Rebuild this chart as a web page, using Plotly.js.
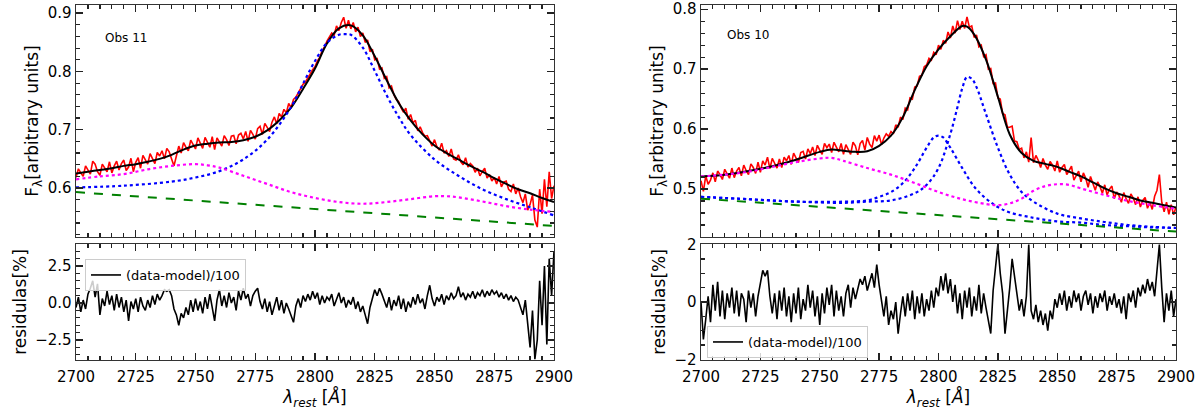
<!DOCTYPE html>
<html>
<head>
<meta charset="utf-8">
<script src="https://cdn.plot.ly/plotly-3.0.1.min.js"></script>
<style>html,body{margin:0;padding:0;background:#fff;}#chart{width:1200px;height:413px;}</style>
</head>
<body>
<div id="chart"></div>
<script>
// ---------------- DATA ----------------
const waveStart = 2700;   // first wavelength of the 1-Angstrom sampled series
const waveStep = 1;

// Obs 11 (left) observed spectrum, 2700..2900 step 1
const obs11Flux = [
0.618,0.633,0.626,0.620,0.638,0.630,0.624,0.646,0.641,0.628,
0.622,0.641,0.635,0.628,0.645,0.626,0.638,0.646,0.631,0.642,
0.648,0.630,0.636,0.651,0.628,0.644,0.652,0.634,0.656,0.649,
0.641,0.659,0.650,0.642,0.661,0.655,0.664,0.650,0.668,0.662,
0.650,0.638,0.655,0.672,0.660,0.678,0.670,0.664,0.682,0.675,
0.667,0.686,0.678,0.668,0.687,0.677,0.670,0.688,0.666,0.686,
0.680,0.672,0.690,0.683,0.673,0.689,0.690,0.676,0.691,0.694,
0.684,0.697,0.680,0.699,0.692,0.684,0.702,0.706,0.692,0.711,
0.704,0.697,0.713,0.722,0.710,0.728,0.722,0.735,0.729,0.745,
0.738,0.752,0.756,0.764,0.770,0.778,0.782,0.790,0.796,0.803,
0.808,0.818,0.824,0.836,0.842,0.852,0.858,0.866,0.862,0.878,
0.870,0.884,0.893,0.874,0.888,0.873,0.884,0.868,0.876,0.860,
0.866,0.850,0.854,0.834,0.838,0.820,0.822,0.804,0.806,0.788,
0.791,0.772,0.775,0.760,0.752,0.748,0.738,0.730,0.737,0.718,
0.726,0.712,0.716,0.698,0.705,0.695,0.689,0.690,0.681,0.672,
0.683,0.671,0.665,0.677,0.660,0.664,0.654,0.667,0.650,0.648,
0.657,0.645,0.640,0.652,0.636,0.642,0.638,0.627,0.634,0.621,
0.628,0.634,0.617,0.623,0.612,0.618,0.607,0.620,0.602,0.610,
0.612,0.598,0.594,0.607,0.590,0.600,0.585,0.575,0.590,0.562,
0.572,0.588,0.545,0.533,0.598,0.556,0.615,0.568,0.628,0.582,
0.604];

// Obs 11 residuals (%), 2700..2900 step 1
const obs11Resid = [
-0.3,0.4,-0.6,0.2,-0.4,0.6,1.0,1.5,0.4,1.3,
-0.8,0.3,-0.2,0.8,-0.1,0.5,-0.5,0.6,-0.3,0.4,
-0.6,0.2,-1.2,0.1,-0.4,0.3,-0.6,0.4,-0.2,-0.5,
0.2,-0.3,0.5,-0.1,0.6,0.2,0.5,0.9,0.8,0.9,
0.5,-0.4,-0.8,-1.5,-0.7,-1.0,-0.3,-0.8,0.2,-0.6,
0.3,-0.5,0.1,-0.7,0.4,-0.4,0.6,-0.3,-1.2,0.2,
0.9,-0.2,0.5,-0.3,0.7,0.0,0.4,-0.5,0.8,0.2,
1.0,0.3,0.6,-0.2,0.5,0.8,1.0,0.1,-0.4,0.3,
-0.6,0.1,-0.8,-0.2,0.4,-0.5,0.2,-0.7,0.0,-0.4,
-0.9,-1.3,-0.2,0.3,-0.3,0.5,0.1,0.6,0.2,0.8,
0.3,0.7,-0.1,0.5,0.0,0.4,0.2,0.6,-0.2,0.3,
0.7,0.0,0.4,-0.3,0.2,-0.1,0.4,-0.4,0.1,-0.6,
-0.2,-0.8,-1.4,-0.3,0.4,0.9,0.5,1.0,0.6,0.2,
-0.3,0.4,-0.5,0.2,-0.2,0.5,-0.4,0.3,-0.6,0.1,
-0.3,0.4,-0.1,0.6,0.0,0.3,-0.4,0.5,1.2,0.3,
-0.2,0.4,0.1,0.6,-0.1,0.5,0.2,0.7,0.3,0.5,
1.1,0.4,0.7,0.2,0.6,0.4,0.8,0.3,0.7,0.5,
0.9,0.4,0.8,0.5,0.9,0.6,0.8,0.4,0.7,0.3,
0.6,0.2,0.5,0.1,0.4,0.2,-0.3,-0.8,0.2,-1.5,
-3.0,-0.5,-3.8,-2.5,1.5,-1.5,2.5,-2.8,3.0,0.5,
3.5];

// Obs 11 model components (read every 5-10 A)
const obs11ModelWave = [2700,2705,2710,2715,2720,2725,2730,2735,2740,2745,2750,2755,2760,2765,2770,2775,2780,2785,2790,2795,2800,2805,2810,2815,2820,2825,2830,2835,2840,2845,2850,2855,2860,2865,2870,2875,2880,2885,2890,2895,2900];
const obs11Model = [0.625,0.628,0.631,0.634,0.638,0.641,0.645,0.650,0.657,0.666,0.673,0.676,0.678,0.679,0.682,0.688,0.699,0.716,0.738,0.770,0.805,0.848,0.874,0.879,0.862,0.826,0.785,0.746,0.716,0.692,0.673,0.660,0.649,0.638,0.628,0.617,0.607,0.598,0.591,0.583,0.576];
const obs11BlueWave = [2700,2720,2740,2750,2760,2770,2780,2790,2795,2800,2805,2810,2813,2815,2820,2825,2830,2835,2840,2850,2860,2870,2880,2890,2900];
const obs11Blue = [0.601,0.604,0.611,0.618,0.629,0.649,0.683,0.739,0.779,0.818,0.849,0.863,0.864,0.863,0.841,0.801,0.759,0.722,0.691,0.649,0.621,0.598,0.581,0.567,0.553];
const obs11MagWave = [2700,2710,2720,2730,2740,2750,2755,2760,2770,2780,2790,2800,2810,2820,2830,2840,2850,2855,2860,2870,2880,2890,2900];
const obs11Mag = [0.615,0.620,0.624,0.632,0.638,0.641,0.639,0.635,0.621,0.607,0.593,0.583,0.576,0.573,0.576,0.581,0.586,0.586,0.584,0.577,0.569,0.563,0.559];
const obs11ContWave = [2700,2900];
const obs11Cont = [0.593,0.535];

// Obs 10 (right) observed spectrum, 2700..2900 step 1
const obs10Flux = [
0.514,0.496,0.522,0.508,0.515,0.527,0.512,0.530,0.524,0.516,
0.533,0.525,0.518,0.535,0.519,0.530,0.536,0.522,0.540,0.531,
0.524,0.542,0.536,0.526,0.545,0.528,0.547,0.540,0.553,0.534,
0.551,0.543,0.535,0.550,0.536,0.553,0.547,0.556,0.541,0.560,
0.552,0.544,0.561,0.563,0.550,0.567,0.559,0.570,0.556,0.573,
0.565,0.558,0.576,0.569,0.575,0.561,0.578,0.570,0.562,0.576,
0.558,0.574,0.567,0.558,0.578,0.572,0.557,0.576,0.581,0.565,
0.586,0.575,0.569,0.589,0.580,0.590,0.574,0.585,0.592,0.588,
0.596,0.592,0.607,0.603,0.620,0.616,0.635,0.632,0.652,0.650,
0.670,0.672,0.688,0.690,0.704,0.707,0.718,0.715,0.728,0.724,
0.740,0.733,0.748,0.743,0.762,0.752,0.772,0.760,0.781,0.766,
0.780,0.768,0.787,0.770,0.772,0.753,0.757,0.737,0.740,0.721,
0.724,0.700,0.701,0.676,0.677,0.652,0.650,0.626,0.624,0.603,
0.603,0.605,0.580,0.579,0.566,0.568,0.552,0.562,0.545,0.586,
0.544,0.556,0.548,0.536,0.551,0.540,0.533,0.546,0.540,0.530,
0.547,0.528,0.536,0.541,0.524,0.530,0.538,0.515,0.524,0.530,
0.512,0.527,0.518,0.503,0.521,0.510,0.498,0.512,0.504,0.493,
0.507,0.490,0.500,0.505,0.484,0.495,0.489,0.478,0.494,0.484,
0.476,0.492,0.485,0.474,0.487,0.470,0.481,0.486,0.468,0.478,
0.466,0.488,0.498,0.524,0.478,0.462,0.478,0.458,0.474,0.457,
0.470];

// Obs 10 residuals (%), 2700..2900 step 1
const obs10Resid = [
0.0,-1.3,-0.6,0.2,-0.7,0.6,-0.3,0.7,-0.5,0.4,
-0.6,0.3,-0.2,0.5,-0.4,0.4,-0.5,0.3,0.1,-0.7,
0.4,-0.2,0.3,-0.5,0.2,0.6,1.1,0.9,1.1,0.2,
-0.4,0.3,-0.6,0.4,-0.3,0.5,-0.5,0.2,-0.7,0.3,
-0.4,0.5,-0.6,0.1,-0.3,0.6,-0.2,0.4,-0.5,0.2,
-0.8,0.3,-0.4,0.5,-0.1,0.6,-0.5,0.4,-0.3,0.2,
-0.5,0.3,0.6,-0.2,0.5,0.1,0.4,0.8,0.6,0.9,
0.4,0.7,1.0,0.5,1.3,0.6,0.1,-0.5,0.2,-0.8,
-0.3,-0.6,0.0,-1.1,-0.4,0.2,-0.5,0.3,-0.3,0.4,
-0.6,0.2,-0.4,0.3,-0.5,0.1,-0.3,0.4,-0.2,0.5,
0.2,0.9,0.4,1.0,0.3,0.8,0.0,0.6,-0.4,0.3,
-0.6,0.4,-0.2,0.5,-0.5,0.2,-0.3,0.6,-0.4,0.3,
-0.2,-0.6,-1.1,0.4,1.2,2.0,1.0,0.3,-1.1,-0.4,
0.5,1.5,0.9,0.3,-0.3,0.1,-0.5,0.2,2.0,-0.3,
-0.6,-0.1,-0.7,-0.3,-0.8,-0.4,-1.0,-0.3,-0.6,0.1,
-0.2,0.3,-0.1,0.4,-0.3,0.2,-0.2,0.4,0.0,0.3,
-0.3,0.2,0.4,-0.1,0.3,-0.4,0.2,-0.2,0.3,0.0,
0.4,-0.3,0.2,-0.1,0.3,-0.2,0.1,-0.4,0.2,-0.6,
0.3,0.0,0.4,-0.2,0.5,0.2,0.6,0.3,0.8,0.4,
0.7,0.2,1.0,2.0,0.5,-0.7,0.3,-0.3,0.4,-0.5,
0.1];

// Obs 10 model components
const obs10ModelWave = [2700,2710,2720,2730,2740,2750,2755,2760,2765,2770,2775,2780,2785,2790,2795,2800,2805,2810,2812,2815,2820,2825,2830,2835,2840,2845,2850,2855,2860,2865,2870,2875,2880,2885,2890,2895,2900];
const obs10Model = [0.521,0.524,0.530,0.538,0.549,0.562,0.566,0.564,0.562,0.563,0.572,0.589,0.620,0.665,0.705,0.733,0.755,0.772,0.771,0.758,0.716,0.654,0.591,0.560,0.547,0.542,0.537,0.529,0.521,0.511,0.501,0.493,0.487,0.481,0.477,0.473,0.469];
const obs10BlueAWave = [2700,2720,2740,2760,2770,2775,2780,2785,2790,2795,2798,2800,2802,2805,2810,2815,2820,2825,2830,2840,2850,2860,2870,2880,2890,2900];
const obs10BlueA = [0.487,0.483,0.479,0.479,0.481,0.487,0.495,0.510,0.535,0.569,0.586,0.589,0.586,0.569,0.535,0.504,0.484,0.470,0.461,0.452,0.446,0.444,0.440,0.438,0.436,0.435];
const obs10BlueBWave = [2700,2720,2740,2760,2770,2780,2790,2795,2800,2805,2808,2810,2812,2814,2816,2820,2825,2830,2835,2840,2850,2860,2870,2880,2890,2900];
const obs10BlueB = [0.487,0.483,0.479,0.477,0.479,0.481,0.493,0.507,0.535,0.592,0.637,0.668,0.687,0.684,0.670,0.625,0.569,0.524,0.495,0.479,0.459,0.451,0.445,0.440,0.437,0.435];
const obs10MagWave = [2700,2710,2720,2730,2740,2750,2755,2760,2770,2780,2790,2800,2810,2820,2825,2830,2835,2840,2845,2850,2855,2860,2870,2880,2890,2900];
const obs10Mag = [0.521,0.524,0.529,0.537,0.545,0.551,0.552,0.547,0.535,0.524,0.510,0.495,0.483,0.475,0.473,0.476,0.484,0.497,0.505,0.508,0.507,0.501,0.490,0.480,0.473,0.467];
const obs10ContWave = [2700,2900];
const obs10Cont = [0.484,0.429];

const xTickVals = [2700,2725,2750,2775,2800,2825,2850,2875,2900];
const panelLabels = ['Obs 11','Obs 10'];
const residLegendName = '(data-model)/100';

// ---------------- CHART ----------------
const FONT = 'DejaVu Sans, Liberation Sans, sans-serif';
const RED = '#ff0000', BLACK = '#000000', BLUE = '#0000ff', MAG = '#ff00ff', GREEN = '#008000';

function series(x, y, xa, ya, color, width, dash, extra) {
  return Object.assign({type:'scatter', mode:'lines', x:x, y:y, xaxis:xa, yaxis:ya,
    line:{color:color, width:width, dash:dash||'solid', shape:'spline', smoothing:1.0},
    showlegend:false, hoverinfo:'skip'}, extra||{});
}
function sampled(y, xa, ya, color, width, extra) {
  return Object.assign({type:'scatter', mode:'lines', x0:waveStart, dx:waveStep, y:y, xaxis:xa, yaxis:ya,
    line:{color:color, width:width}, showlegend:false, hoverinfo:'skip'}, extra||{});
}

const traces = [
  // left top
  sampled(obs11Flux,'x','y',RED,1.6),
  series(obs11ModelWave,obs11Model,'x','y',BLACK,2),
  series(obs11BlueWave,obs11Blue,'x','y',BLUE,2.2,'dot'),
  series(obs11MagWave,obs11Mag,'x','y',MAG,2.2,'dot'),
  series(obs11ContWave,obs11Cont,'x','y',GREEN,2,'dash'),
  // left residual
  sampled(obs11Resid,'x2','y2',BLACK,1.6,{name:residLegendName, showlegend:true, legend:'legend'}),
  // right top
  sampled(obs10Flux,'x3','y3',RED,1.6),
  series(obs10ModelWave,obs10Model,'x3','y3',BLACK,2),
  series(obs10BlueAWave,obs10BlueA,'x3','y3',BLUE,2.2,'dot'),
  series(obs10BlueBWave,obs10BlueB,'x3','y3',BLUE,2.2,'dot'),
  series(obs10MagWave,obs10Mag,'x3','y3',MAG,2.2,'dot'),
  series(obs10ContWave,obs10Cont,'x3','y3',GREEN,2,'dash'),
  // right residual
  sampled(obs10Resid,'x4','y4',BLACK,1.6,{name:residLegendName, showlegend:true, legend:'legend2'})
];

const W = 1200, H = 413;
const px = v => v / W, py = v => 1 - v / H;
const leftDom = [px(76), px(554)], rightDom = [px(701), px(1176)];
const topDom = [py(237), py(5)], botDom = [py(360), py(244)];

function xAxis(dom, anchor, labels) {
  const a = {domain:dom, anchor:anchor, range:[2700,2900], tickvals:xTickVals,
    ticks:'inside', ticklen:7, tickwidth:1.4, tickcolor:'#222',
    showline:true, linecolor:'#333', linewidth:1.4, mirror:'allticks',
    showgrid:false, zeroline:false, showticklabels:labels, ticklabeloverflow:'allow',
    ticklabelstandoff:3,
    tickfont:{family:FONT, size:15, color:'#000'},
    minor:{ticks:'inside', dtick:5, tick0:2700, ticklen:4, tickwidth:1.2, tickcolor:'#222', showgrid:false}};
  if (labels) {
    a.title = {text:'<i>λ</i><sub><i>rest</i></sub> [<i>Å</i>]', font:{family:FONT, size:17, color:'#000'}, standoff:2};
  }
  return a;
}
function yAxis(dom, anchor, range, dtick, tick0, minor, fmt, title, size, standoff) {
  return {domain:dom, anchor:anchor, range:range, dtick:dtick, tick0:tick0, tickformat:fmt,
    ticks:'inside', ticklen:7, tickwidth:1.4, tickcolor:'#222',
    showline:true, linecolor:'#333', linewidth:1.4, mirror:'allticks',
    showgrid:false, zeroline:false, ticklabeloverflow:'allow',
    tickfont:{family:FONT, size:15, color:'#000'},
    minor:{ticks:'inside', dtick:minor, tick0:tick0, ticklen:4, tickwidth:1.2, tickcolor:'#222', showgrid:false},
    title:{text:title, font:{family:FONT, size:size, color:'#000'}, standoff:standoff}};
}

const FLAB = 'F<sub>λ</sub>[arbitrary units]';
const RLAB = 'residulas[%]';

const layout = {
  width:W, height:H, margin:{l:0,r:0,t:0,b:0},
  paper_bgcolor:'#fff', plot_bgcolor:'#fff',
  font:{family:FONT, color:'#000'},
  xaxis: xAxis(leftDom,'y',false),
  yaxis: yAxis(topDom,'x',[0.516,0.914],0.1,0.6,0.02,'.1f',FLAB,17,4),
  xaxis2: xAxis(leftDom,'y2',true),
  yaxis2: yAxis(botDom,'x2',[-3.85,3.99],2.5,0,0.5,'.1f',RLAB,17,4),
  xaxis3: xAxis(rightDom,'y3',false),
  yaxis3: yAxis(topDom,'x3',[0.42,0.807],0.1,0.5,0.02,'.1f',FLAB,17,4),
  xaxis4: xAxis(rightDom,'y4',true),
  yaxis4: yAxis(botDom,'x4',[-2.02,2.02],2,0,0.5,'d',RLAB,17,4),
  legend:{x:px(85), y:py(259), xanchor:'left', yanchor:'top', bgcolor:'rgba(255,255,255,0.8)',
    bordercolor:'#cccccc', borderwidth:1, font:{family:FONT, size:13, color:'#000'}, tracegroupgap:0},
  legend2:{x:px(707), y:py(358), xanchor:'left', yanchor:'bottom', bgcolor:'rgba(255,255,255,0.8)',
    bordercolor:'#cccccc', borderwidth:1, font:{family:FONT, size:13, color:'#000'}, tracegroupgap:0},
  annotations:[
    {text:panelLabels[0], xref:'paper', yref:'paper', x:px(103), y:py(38), xanchor:'left', yanchor:'middle', showarrow:false, font:{family:FONT, size:12, color:'#000'}},
    {text:panelLabels[1], xref:'paper', yref:'paper', x:px(725), y:py(35), xanchor:'left', yanchor:'middle', showarrow:false, font:{family:FONT, size:12, color:'#000'}}
  ]
};

Plotly.newPlot('chart', traces, layout, {staticPlot:true, displayModeBar:false});
</script>
</body>
</html>
